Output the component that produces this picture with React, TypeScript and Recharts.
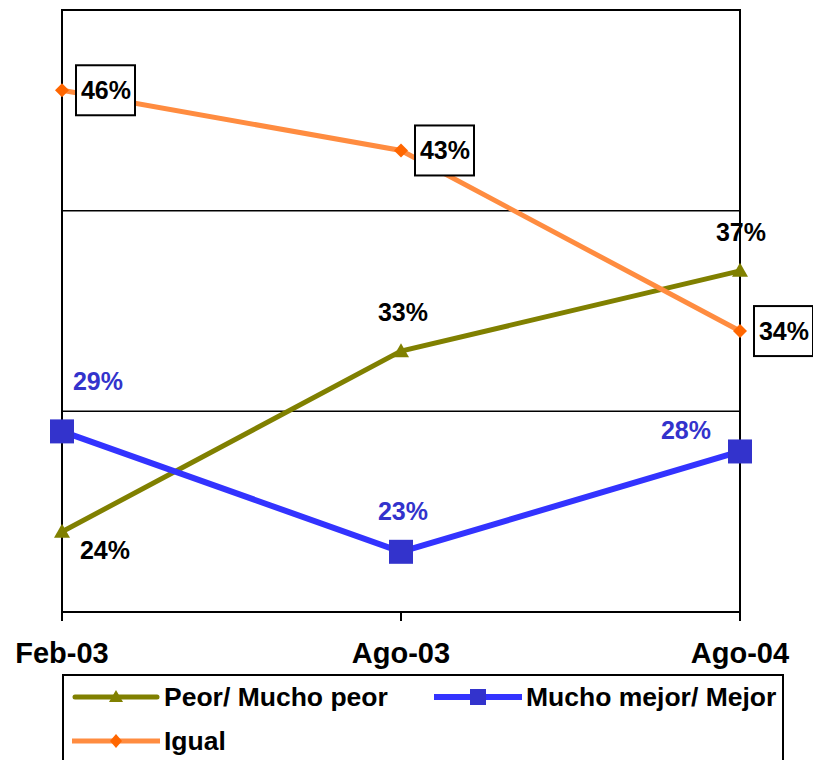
import { LabelList, Line, LineChart, ReferenceArea, ReferenceLine, XAxis, YAxis } from "recharts";

const periods = ["Feb-03", "Ago-03", "Ago-04"];
const peor = [24, 33, 37];
const mejor = [29, 23, 28];
const igual = [46, 43, 34];
const yTicks = [20, 30, 40, 50];

const data = periods.map((p, i) => ({ period: p, peor: peor[i], mejor: mejor[i], igual: igual[i] }));

const FONT = "'Liberation Sans', Arial, sans-serif";
const OLIVE = "#808000";
const BLUE_LINE = "#3333FF";
const BLUE = "#3333CC";
const ORANGE_LINE = "#FF8C40";
const ORANGE = "#FF6600";

const Triangle = ({ cx, cy }: any) =>
  cx == null ? null : <path d={`M${cx},${cy - 8} L${cx + 8},${cy + 6} L${cx - 8},${cy + 6} Z`} fill={OLIVE} />;
const Square = ({ cx, cy }: any) =>
  cx == null ? null : <rect x={cx - 12} y={cy - 12} width={24} height={24} fill={BLUE} />;
const Diamond = ({ cx, cy }: any) =>
  cx == null ? null : <path d={`M${cx},${cy - 7} L${cx + 7},${cy} L${cx},${cy + 7} L${cx - 7},${cy} Z`} fill={ORANGE} />;

const peorOffsets = [[43, 18], [2, -39], [1, -39]];
const mejorOffsets = [[36, -50], [2, -41], [-54, -21]];

const plainLabel = (offsets: number[][], color: string) => (props: any) => {
  const { x, y, value, index } = props;
  const [dx, dy] = offsets[index];
  return (
    <text x={x + dx} y={y + dy + 9} textAnchor="middle" fontFamily={FONT} fontWeight="bold" fontSize={25} fill={color}>
      {value}%
    </text>
  );
};

const boxLabel = (props: any) => {
  const { x, y, value } = props;
  return (
    <g>
      <rect x={x + 14} y={y - 25} width={59} height={50} fill="#fff" stroke="#000" strokeWidth={2} />
      <text x={x + 44} y={y + 9} textAnchor="middle" fontFamily={FONT} fontWeight="bold" fontSize={25} fill="#000">
        {value}%
      </text>
    </g>
  );
};

const legendText = { fontFamily: FONT, fontWeight: "bold" as const, fontSize: 26.5, color: "#000", lineHeight: "27px", whiteSpace: "nowrap" as const };

function LegendItem({ label, kind, left, top }: { label: string; kind: string; left: number; top: number }) {
  return (
    <div style={{ position: "absolute", left, top: top - 14, display: "flex", alignItems: "center", height: 28 }}>
      <svg width={88} height={28}>
        {kind === "peor" && (
          <>
            <line x1={3} y1={14} x2={85} y2={14} stroke={OLIVE} strokeWidth={5} strokeLinecap="round" />
            <path d="M44,7 L51,19 L37,19 Z" fill={OLIVE} />
          </>
        )}
        {kind === "mejor" && (
          <>
            <line x1={0} y1={14} x2={88} y2={14} stroke={BLUE_LINE} strokeWidth={6} />
            <rect x={36} y={6} width={16} height={16} fill={BLUE} />
          </>
        )}
        {kind === "igual" && (
          <>
            <line x1={0} y1={14} x2={88} y2={14} stroke={ORANGE_LINE} strokeWidth={5} />
            <path d="M44,7 L50,14 L44,21 L38,14 Z" fill={ORANGE} />
          </>
        )}
      </svg>
      <span style={{ ...legendText, marginLeft: 4 }}>{label}</span>
    </div>
  );
}

export default function App() {
  return (
    <div style={{ position: "absolute", left: 0, top: 0, width: 813, height: 760, overflow: "hidden", background: "#fff" }}>
      <LineChart width={813} height={760} data={data} margin={{ top: 10, right: 73, left: 62, bottom: 88 }}>
        <XAxis
          dataKey="period"
          height={60}
          tickSize={9}
          tickMargin={21}
          axisLine={{ stroke: "#000", strokeWidth: 2 }}
          tickLine={{ stroke: "#000", strokeWidth: 2 }}
          tick={{ fill: "#000", fontSize: 29, fontWeight: "bold", fontFamily: FONT }}
          interval={0}
        />
        <YAxis domain={[20, 50]} ticks={yTicks} hide />
        <ReferenceArea
          x1={periods[0]}
          x2={periods[periods.length - 1]}
          y1={yTicks[0]}
          y2={yTicks[yTicks.length - 1]}
          ifOverflow="visible"
          fill="none"
          fillOpacity={0}
          stroke="#000"
          strokeWidth={2}
          strokeOpacity={1}
        />
        {yTicks.slice(1, -1).map((t) => (
          <ReferenceLine key={t} y={t} stroke="#000" strokeWidth={1.5} />
        ))}
        <Line dataKey="peor" stroke={OLIVE} strokeWidth={5} dot={<Triangle />} isAnimationActive={false}>
          <LabelList dataKey="peor" content={plainLabel(peorOffsets, "#000")} />
        </Line>
        <Line dataKey="mejor" stroke={BLUE_LINE} strokeWidth={6} dot={<Square />} isAnimationActive={false}>
          <LabelList dataKey="mejor" content={plainLabel(mejorOffsets, BLUE)} />
        </Line>
        <Line dataKey="igual" stroke={ORANGE_LINE} strokeWidth={5} dot={<Diamond />} isAnimationActive={false}>
          <LabelList dataKey="igual" content={boxLabel} />
        </Line>
      </LineChart>
      <div style={{ position: "absolute", left: 62, top: 674, width: 722, height: 120, border: "2px solid #000", boxSizing: "border-box" }} />
      <LegendItem label="Peor/ Mucho peor" kind="peor" left={72} top={697} />
      <LegendItem label="Mucho mejor/ Mejor" kind="mejor" left={434} top={697} />
      <LegendItem label="Igual" kind="igual" left={72} top={741} />
    </div>
  );
}
